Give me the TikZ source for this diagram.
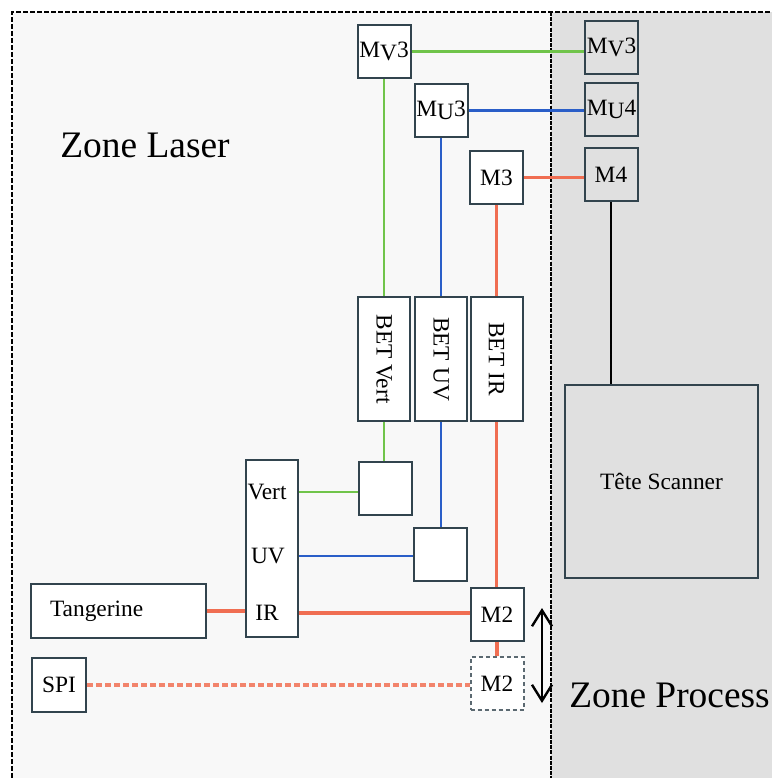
\documentclass[tikz,border=0pt]{standalone}
\usepackage{fontspec}
\setmainfont{Liberation Serif}
\usepackage{xcolor}
\usetikzlibrary{positioning, arrows.meta, calc}
\definecolor{laservert}{RGB}{112,196,74}
\definecolor{laseruv}{RGB}{42,94,200}
\definecolor{laserir}{RGB}{240,110,82}
\definecolor{boxline}{RGB}{50,68,78}
\definecolor{zonelaser}{RGB}{248,248,248}
\definecolor{zoneprocess}{RGB}{224,224,224}

\begin{document}
\begin{tikzpicture}[
  x=0.5pt, y=-0.5pt,
  font=\fontsize{11.7}{13}\selectfont,
  bloc/.style={draw=boxline, line width=1pt, fill=white, inner sep=0pt},
  miroir/.style={bloc, minimum width=26.5pt, minimum height=26.5pt},
  miroirext/.style={miroir, fill=none},
  miroirpos/.style={miroir, draw=boxline!80, dash pattern=on 2pt off 1.5pt},
  bet/.style={bloc, minimum width=62pt, minimum height=26pt, rotate=-90},
  zone/.style={font=\fontsize{18.7}{22}\selectfont, inner sep=0pt},
  vertline/.style={draw=laservert, line width=1.4pt},
  uvline/.style={draw=laseruv, line width=1.4pt},
  irline/.style={draw=laserir, line width=1.6pt},
  spiline/.style={draw=laserir!85, line width=2pt, dash pattern=on 3pt off 1.5pt},
  bord/.style={draw=black, line width=0.9pt, dash pattern=on 2.5pt off 1pt}
]
\useasboundingbox (0,0) rectangle (772,778);
\fill[zonelaser] (12,12) rectangle (551,778);
\fill[zoneprocess] (551,12) rectangle (772,778);
\draw[bord] (12,778) -- (12,12) -- (772,12);
\draw[bord, line width=1.4pt, dash pattern=on 2pt off 0.6pt] (551,12) -- (551,778);

\node[zone] (zl) at (145,145) {Zone Laser};
\node[zone] (zp) at (669.5,695) {Zone Process};

\node[miroir] (mv3) at (384,51.5) {M\raisebox{-0.3ex}{V}3};
\node[miroir] (mu3) at (441,110.5) {M\raisebox{-0.3ex}{U}3};
\node[miroir] (m3) at (496.5,177.5) {M3};
\node[miroirext] (mv3r) at (611.5,47.5) {M\raisebox{-0.3ex}{V}3};
\node[miroirext] (mu4) at (611.5,109.5) {M\raisebox{-0.3ex}{U}4};
\node[miroirext] (m4) at (611,174.5) {M4};
\node[bet] (betv) at (384,359) {BET Vert};
\node[bet] (betu) at (441,359) {BET UV};
\node[bet] (beti) at (496.5,359) {BET IR};
\node[miroir] (bv) at (385.5,488) {};
\node[miroir] (bu) at (440,554) {};
\node[miroir] (m2) at (497,614.5) {M2};
\node[miroirpos] (m2d) at (497,683.5) {M2};
\node[bloc, minimum width=26pt, minimum height=88.5pt] (laser) at (272,548.5) {};
\node (vert) at (267,492) {Vert};
\node (uv) at (268,556) {UV};
\node (ir) at (267,613) {IR};
\node[bloc, text width=68.5pt, inner xsep=9.5pt, minimum height=27pt, align=left] (tang) at (118.5,611) {Tangerine};
\node[miroir, minimum width=27pt, minimum height=27pt] (spi) at (59,685) {SPI};
\node[bloc, fill=none, minimum width=96.5pt, minimum height=96.5pt] (tete) at (661.5,481.5) {Tête Scanner};

\draw[vertline] (mv3.east) -- (mv3.east -| mv3r.west);
\draw[vertline] (mv3) -- (betv);
\draw[vertline] (betv) -- (betv |- bv.north);
\draw[vertline] (vert -| laser.east) -- (vert -| bv.west);

\draw[uvline] (mu3.east) -- (mu3.east -| mu4.west);
\draw[uvline] (mu3) -- (betu);
\draw[uvline] (betu) -- (betu |- bu.north);
\draw[uvline] (uv -| laser.east) -- (uv -| bu.west);

\draw[irline] (m3.east) -- (m3.east -| m4.west);
\draw[irline] (m3) -- (beti);
\draw[irline] (beti) -- (beti |- m2.north);
\draw[irline] (m2.south) -- (m2.south |- m2d.north);
\draw[irline] (ir -| laser.east) -- (ir -| m2.west);
\draw[irline] (tang.east) -- (tang.east -| laser.west);
\draw[spiline] (spi.east) -- (spi.east -| m2d.west);

\draw[line width=1.2pt] (m4.south) -- (m4.south |- tete.north);

\coordinate (flechehaut) at (542,608);
\coordinate (flechebas) at (542,703);
\draw[line width=1.2pt, {Straight Barb[length=8pt,width=10pt]}-{Straight Barb[length=8pt,width=10pt]}] (flechehaut) -- (flechebas);
\end{tikzpicture}
\end{document}
